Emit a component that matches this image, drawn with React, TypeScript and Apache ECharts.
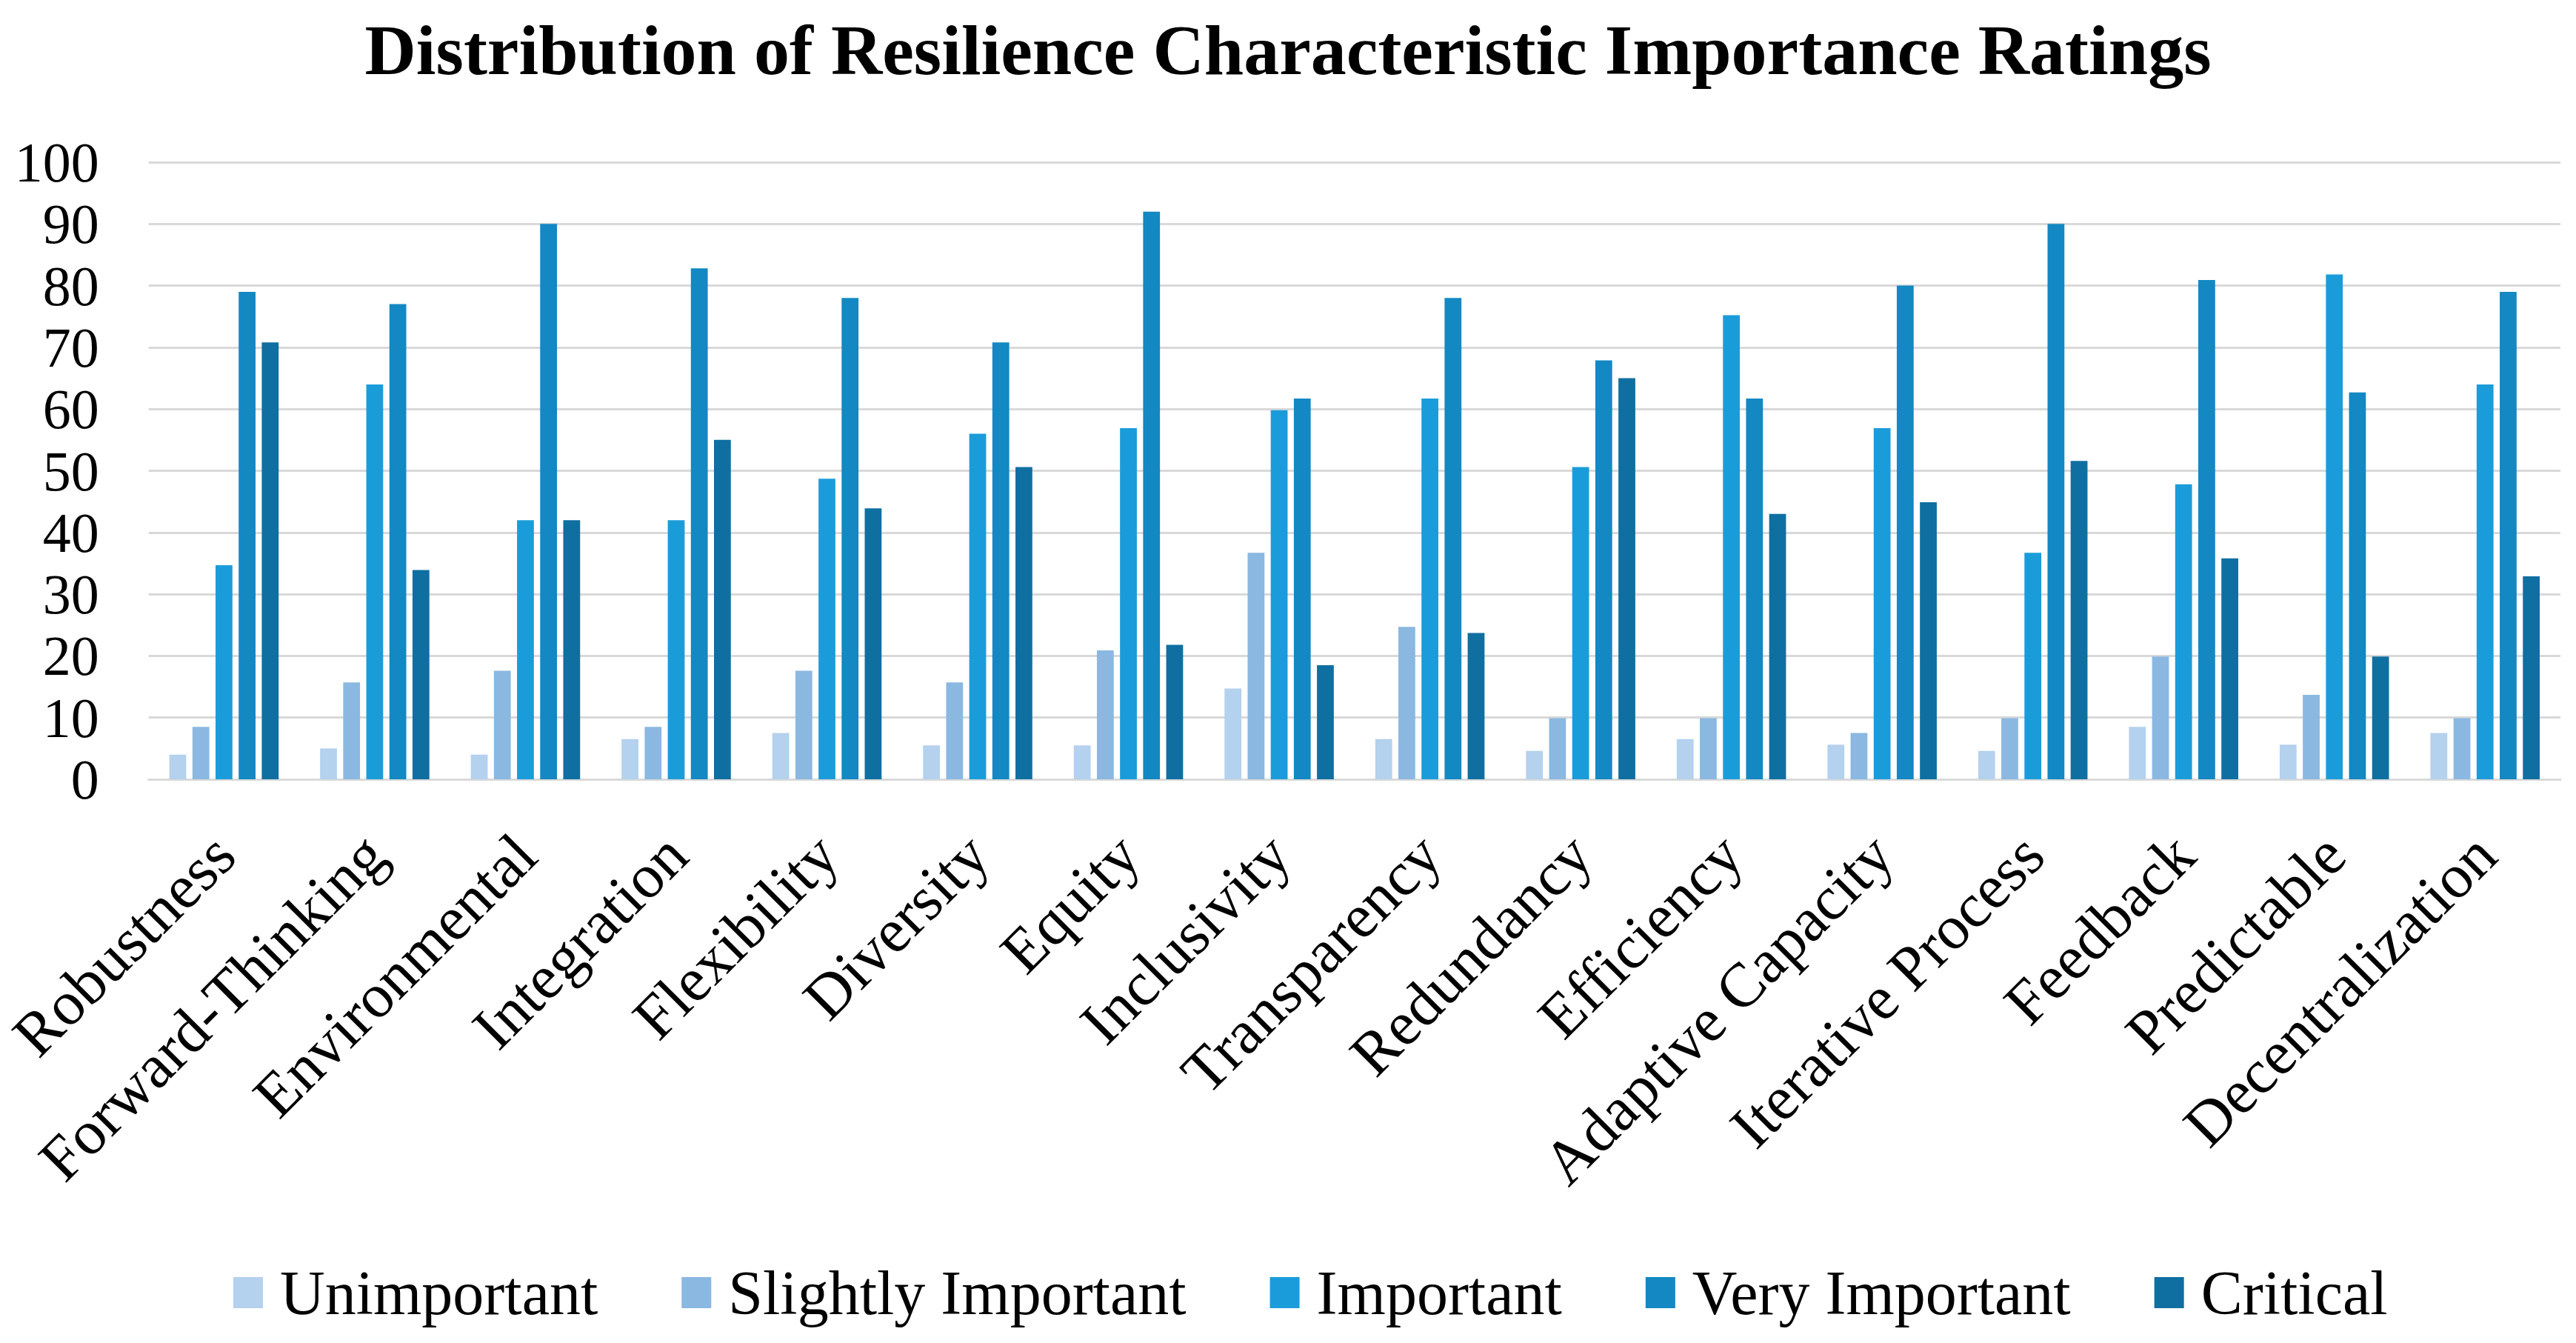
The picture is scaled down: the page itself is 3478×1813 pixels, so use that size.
import React, { useEffect, useRef } from "react";
import * as echarts from "echarts";

const categories = [
  "Robustness",
  "Forward-Thinking",
  "Environmental",
  "Integration",
  "Flexibility",
  "Diversity",
  "Equity",
  "Inclusivity",
  "Transparency",
  "Redundancy",
  "Efficiency",
  "Adaptive Capacity",
  "Iterative Process",
  "Feedback",
  "Predictable",
  "Decentralization",
];

const seriesNames = ["Unimportant", "Slightly Important", "Important", "Very Important", "Critical"];

const unimportant = [4, 5, 4, 6.5, 7.5, 5.5, 5.5, 14.7, 6.5, 4.6, 6.5, 5.6, 4.6, 8.5, 5.6, 7.5];
const slightlyImportant = [8.5, 15.7, 17.6, 8.5, 17.6, 15.7, 20.9, 36.7, 24.7, 9.9, 9.9, 7.5, 9.9, 19.9, 13.7, 9.9];
const important = [34.7, 64, 42, 42, 48.7, 56, 56.9, 59.8, 61.7, 50.6, 75.2, 56.9, 36.7, 47.8, 81.8, 64];
const veryImportant = [79, 77, 90, 82.8, 78, 70.8, 92, 61.7, 78, 67.9, 61.7, 80, 90, 80.9, 62.7, 79];
const critical = [70.8, 33.9, 42, 55, 43.9, 50.6, 21.8, 18.5, 23.7, 65, 43, 44.9, 51.6, 35.8, 19.9, 32.9];

const seriesValues = [unimportant, slightlyImportant, important, veryImportant, critical];
const colors = ["#b4d1ee", "#8ab8e1", "#1b9cda", "#1388c3", "#0f6fa1"];

const FONT = "'Liberation Serif', serif";

export default function App() {
  const ref = useRef<HTMLDivElement>(null);

  useEffect(() => {
    document.body.style.margin = "0";
    const chart = echarts.init(ref.current as HTMLDivElement, null, { renderer: "svg" });
    chart.setOption({
      animation: false,
      backgroundColor: "#ffffff",
      color: colors,
      title: {
        text: "Distribution of Resilience Characteristic Importance Ratings",
        left: "center",
        top: 14,
        textStyle: {
          fontFamily: FONT,
          fontWeight: "bold",
          fontSize: 96,
          color: "#000000",
        },
      },
      legend: {
        data: seriesNames,
        left: 310,
        top: 1698,
        icon: "rect",
        itemWidth: 40,
        itemHeight: 42,
        itemGap: 113,
        textStyle: {
          fontFamily: FONT,
          fontSize: 84,
          lineHeight: 84,
          color: "#000000",
          padding: [0, 0, 0, 18],
        },
      },
      grid: {
        left: 200,
        right: 21,
        top: 219,
        bottom: 761,
        containLabel: false,
      },
      xAxis: {
        type: "category",
        data: categories,
        axisLine: { show: true, lineStyle: { color: "#d9d9d9", width: 3 } },
        axisTick: { show: false },
        axisLabel: {
          interval: 0,
          rotate: 45,
          margin: 88,
          fontFamily: FONT,
          fontSize: 84,
          color: "#000000",
        },
      },
      yAxis: {
        type: "value",
        min: 0,
        max: 100,
        interval: 10,
        axisLine: { show: false },
        axisTick: { show: false },
        splitLine: { show: true, lineStyle: { color: "#d9d9d9", width: 3 } },
        axisLabel: {
          margin: 67,
          fontFamily: FONT,
          fontSize: 76,
          color: "#000000",
        },
      },
      series: seriesNames.map((name, i) => ({
        name,
        type: "bar",
        data: seriesValues[i],
        barGap: "37%",
        barCategoryGap: "27.5%",
        itemStyle: { color: colors[i] },
      })),
    });
    return () => chart.dispose();
  }, []);

  return <div ref={ref} style={{ width: 3478, height: 1813 }} />;
}
